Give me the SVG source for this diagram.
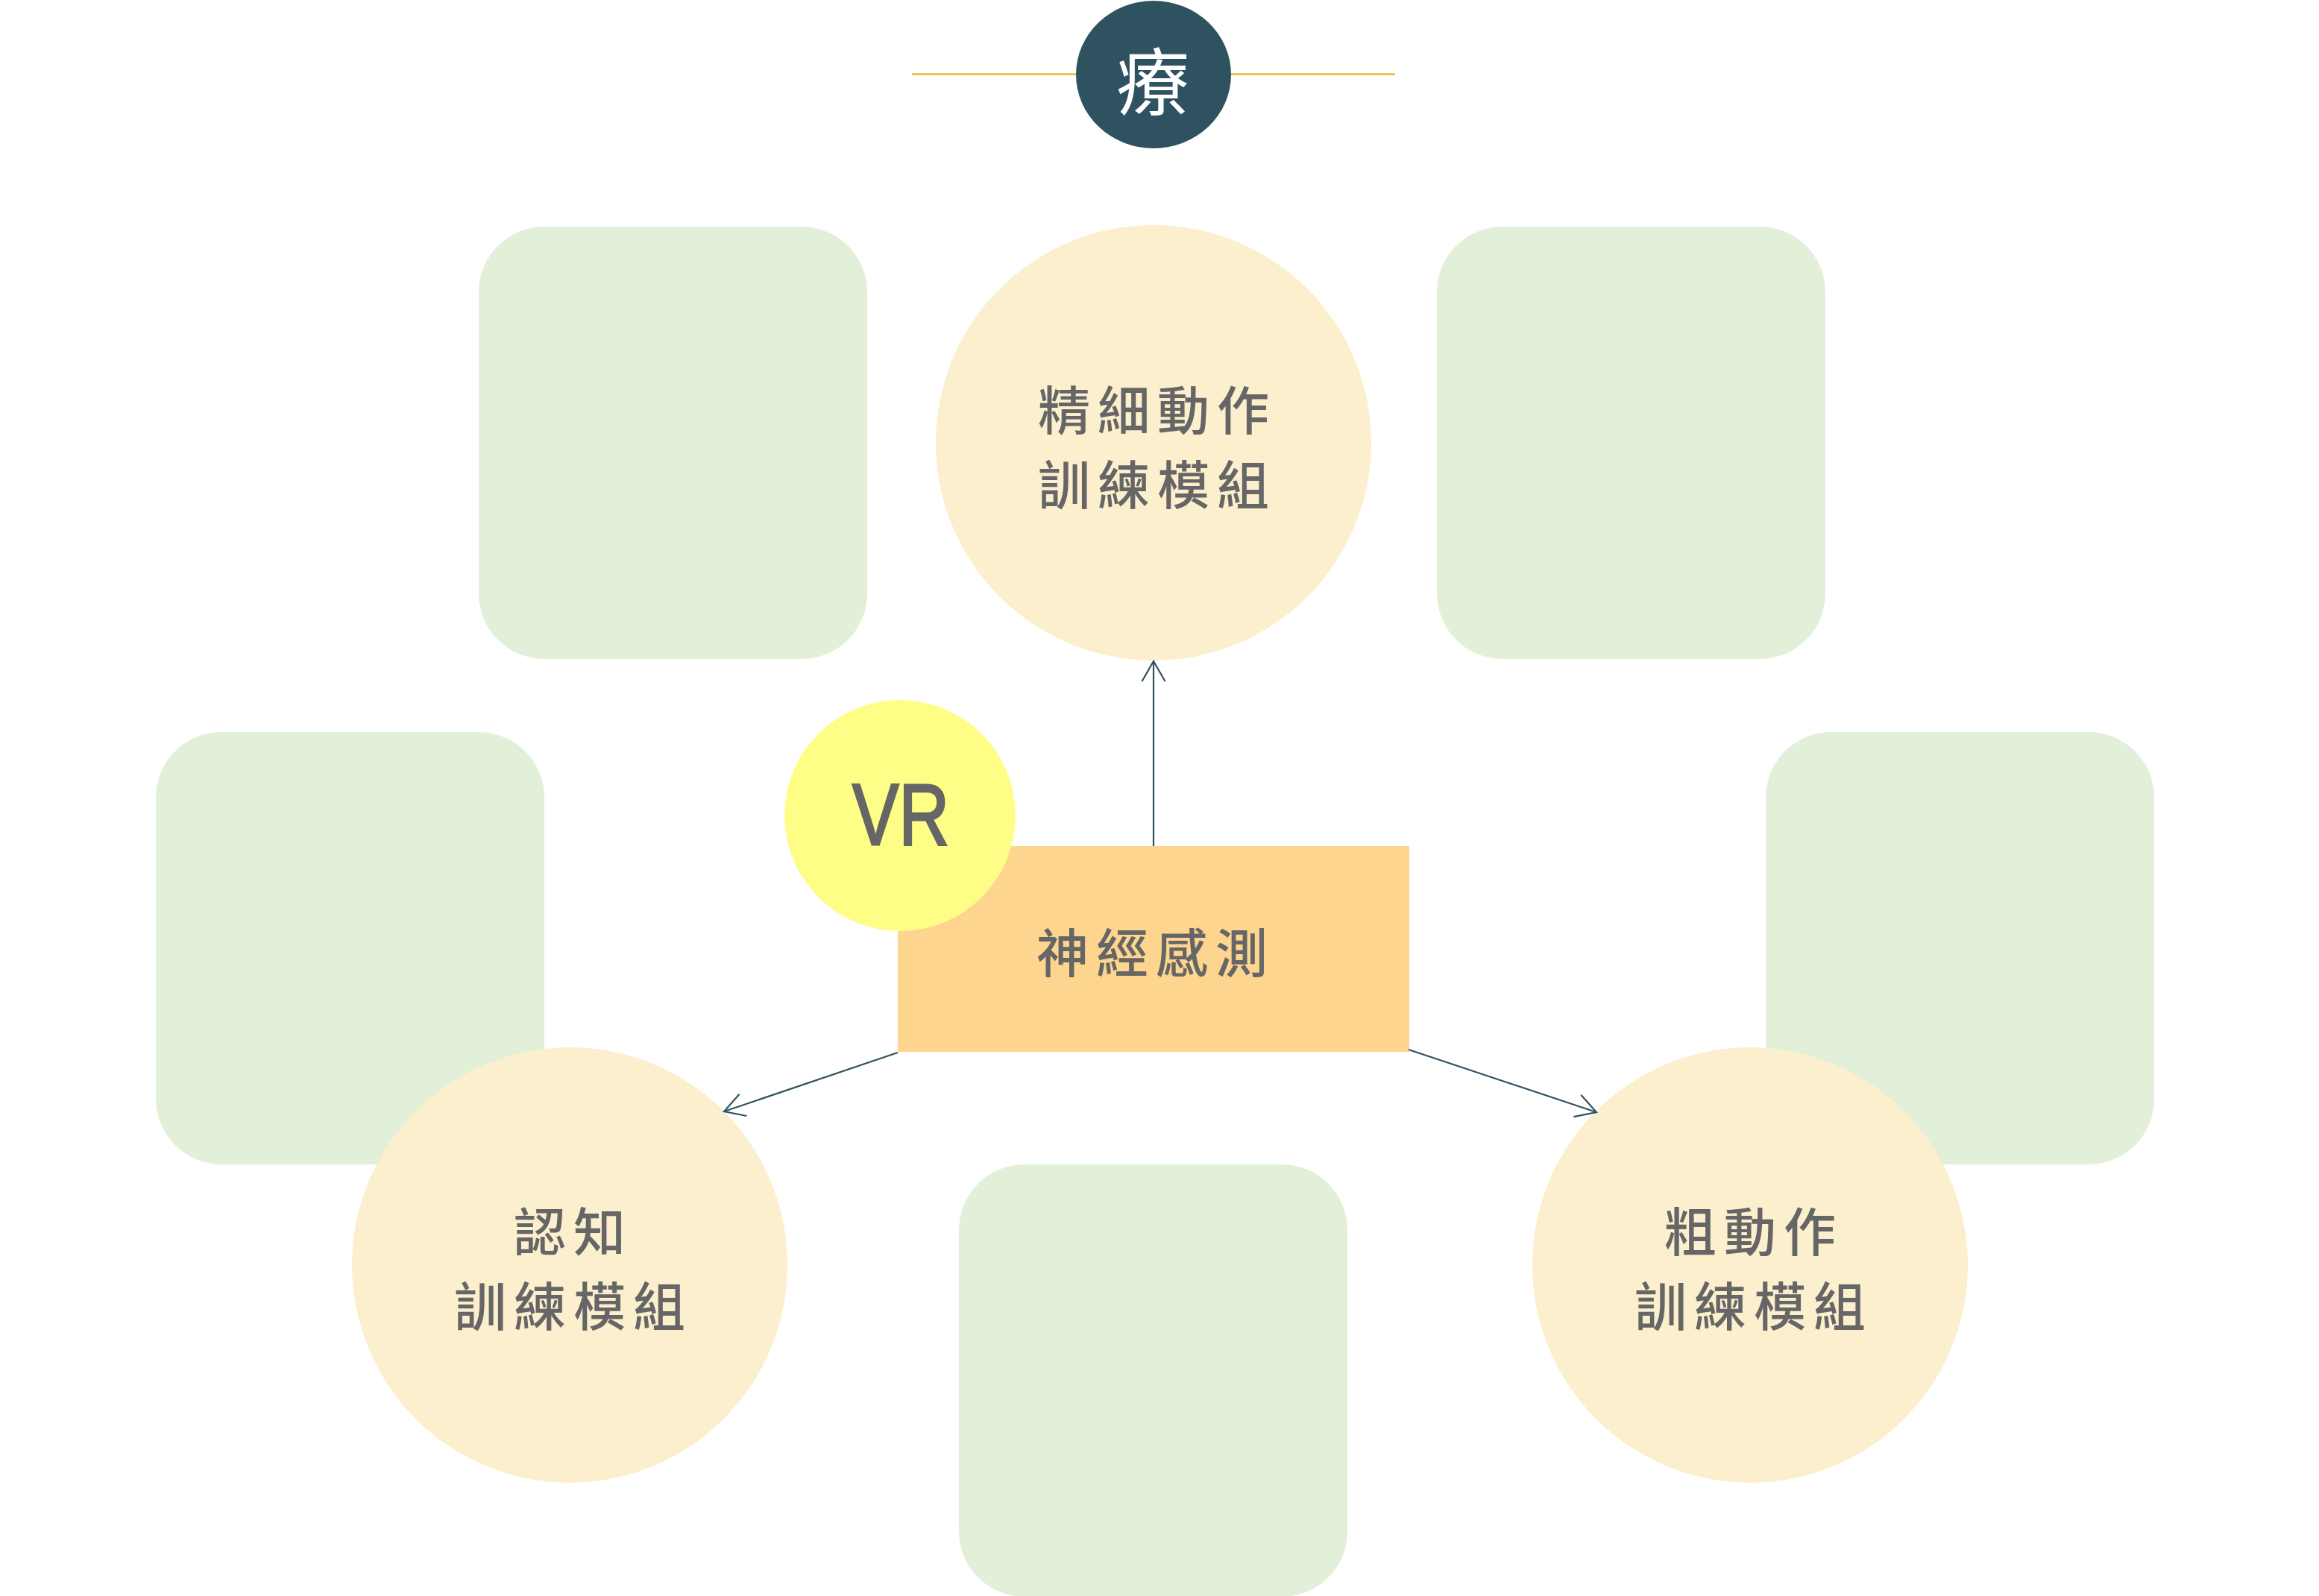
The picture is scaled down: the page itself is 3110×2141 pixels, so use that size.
<svg xmlns="http://www.w3.org/2000/svg" width="3110" height="2141" viewBox="0 0 3110 2141">
<style>
.box{fill:#E2EFD9}
.circ{fill:#FCEFCD}
.lbl{font-family:"Noto Sans CJK TC","Noto Sans CJK SC",sans-serif;font-size:70px;font-weight:500;fill:#666666;text-anchor:middle;letter-spacing:10px}
.conn{stroke:#2F5260;stroke-width:2.2;fill:none}
</style>
<defs>
<marker id="arr" markerUnits="userSpaceOnUse" viewBox="-40 -30 50 60" refX="0" refY="0" markerWidth="50" markerHeight="60" orient="auto" overflow="visible">
<path d="M-27,-15.5 L0,0 L-27,15.5" fill="none" stroke="#2F5260" stroke-width="2.2"/>
</marker>
</defs>
<rect width="3110" height="2141" fill="#FFFFFF"/>
<g id="title">
<line x1="1223" y1="99.5" x2="1871" y2="99.5" stroke="#F5A300" stroke-width="2"/>
<ellipse cx="1547" cy="100" rx="104" ry="99" fill="#2F5260"/>
<text x="1546" y="146" font-family="Noto Sans CJK TC, sans-serif" font-size="98" fill="#FFFFFF" text-anchor="middle">療</text>
</g>
<g id="box-tl"><rect class="box" x="642" y="304" width="521" height="580" rx="88" ry="88"/></g>
<g id="box-tr"><rect class="box" x="1927" y="304" width="521" height="580" rx="88" ry="88"/></g>
<g id="box-ml"><rect class="box" x="209" y="982" width="521" height="580" rx="88" ry="88"/></g>
<g id="box-mr"><rect class="box" x="2368" y="982" width="521" height="580" rx="88" ry="88"/></g>
<g id="box-bc"><rect class="box" x="1286" y="1562" width="521" height="580" rx="88" ry="88"/></g>
<g id="fine-motor">
<circle class="circ" cx="1547" cy="594" r="292"/>
<text class="lbl" x="1552" y="577">精細動作</text>
<text class="lbl" x="1552" y="677">訓練模組</text>
</g>
<g id="cognitive">
<circle class="circ" cx="764" cy="1697" r="292"/>
<text class="lbl" x="769" y="1679">認知</text>
<text class="lbl" x="769" y="1779">訓練模組</text>
</g>
<g id="gross-motor">
<circle class="circ" cx="2347" cy="1697" r="292"/>
<text class="lbl" x="2352" y="1679">粗動作</text>
<text class="lbl" x="2352" y="1779">訓練模組</text>
</g>
<g id="neuro">
<rect x="1204" y="1135" width="686" height="276" fill="#FDD58E"/>
<text class="lbl" x="1550" y="1305">神經感測</text>
</g>
<g id="vr">
<circle cx="1207" cy="1094" r="155" fill="#FEFE86"/>
<text x="1208" y="1133" font-family="Liberation Sans, Arial, sans-serif" font-size="116" fill="#666666" stroke="#666666" stroke-width="3" text-anchor="middle" textLength="130" lengthAdjust="spacingAndGlyphs">VR</text>
</g>
<g id="connectors">
<line class="conn" x1="1547" y1="1135" x2="1547" y2="887" marker-end="url(#arr)"/>
<line class="conn" x1="1204" y1="1412" x2="971" y2="1491" marker-end="url(#arr)"/>
<line class="conn" x1="1889" y1="1408" x2="2141" y2="1492" marker-end="url(#arr)"/>
</g>
</svg>
